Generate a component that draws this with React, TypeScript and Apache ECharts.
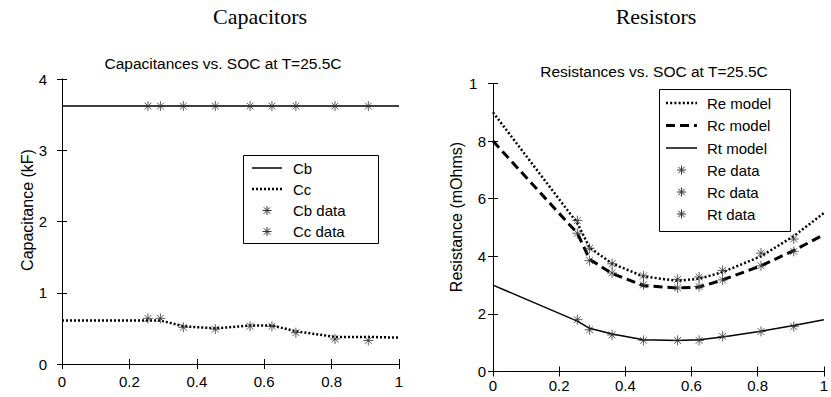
import React, { useEffect, useRef } from "react";
import * as echarts from "echarts";

// ---- data ----
const SOC = [0.255, 0.292, 0.36, 0.455, 0.558, 0.623, 0.694, 0.81, 0.909];
const MODEL_SOC = [0, 0.255, 0.292, 0.36, 0.455, 0.558, 0.623, 0.694, 0.81, 0.909, 1];
const CB_SOC = [0, 1];

const cbModel = [3.62, 3.62];
const ccModel = [0.61, 0.61, 0.61, 0.53, 0.5, 0.54, 0.54, 0.46, 0.38, 0.38, 0.37];
const cbData = [3.62, 3.62, 3.62, 3.62, 3.62, 3.62, 3.62, 3.62, 3.62];
const ccData = [0.64, 0.64, 0.515, 0.49, 0.53, 0.53, 0.44, 0.35, 0.33];

const reModel = [9, 5.15, 4.3, 3.75, 3.3, 3.15, 3.22, 3.45, 4.0, 4.7, 5.5];
const rcModel = [8, 4.8, 3.9, 3.4, 2.98, 2.9, 2.93, 3.18, 3.67, 4.2, 4.75];
const rtModel = [3, 1.75, 1.5, 1.3, 1.1, 1.08, 1.1, 1.2, 1.4, 1.6, 1.8];
const reData = [5.24, 4.28, 3.74, 3.32, 3.2, 3.28, 3.51, 4.11, 4.6];
const rcData = [4.8, 3.85, 3.42, 3.01, 2.9, 2.95, 3.18, 3.67, 4.17];
const rtData = [1.8, 1.45, 1.27, 1.08, 1.08, 1.08, 1.22, 1.39, 1.56];

const X_TICKS = [0, 0.2, 0.4, 0.6, 0.8, 1];
const CAP_NAMES = ["Cb", "Cc", "Cb data", "Cc data"];
const RES_NAMES = ["Re model", "Rc model", "Rt model", "Re data", "Rc data", "Rt data"];

const SANS = "Liberation Sans, Arial, Helvetica, sans-serif";
const SERIF = "Liberation Serif, Times New Roman, serif";
const STAR = "path://M5,0L5,10M0,5L10,5M1.6,1.6L8.4,8.4M1.6,8.4L8.4,1.6";
const MARK = "#333";

const zip = (xs: number[], ys: number[]) => xs.map((x, i) => [x, ys[i]]);

function star(cx: number, cy: number) {
  const r = 4.5;
  const d = 3.2;
  const s = { stroke: MARK, lineWidth: 1 };
  return {
    type: "group",
    children: [
      { type: "line", shape: { x1: cx, y1: cy - r, x2: cx, y2: cy + r }, style: s },
      { type: "line", shape: { x1: cx - r, y1: cy, x2: cx + r, y2: cy }, style: s },
      { type: "line", shape: { x1: cx - d, y1: cy - d, x2: cx + d, y2: cy + d }, style: s },
      { type: "line", shape: { x1: cx - d, y1: cy + d, x2: cx + d, y2: cy - d }, style: s },
    ],
  };
}

function legendBox(
  x: number, y: number, w: number, h: number,
  names: string[], rowY: number[], iconX1: number, iconX2: number, textX: number,
  kinds: { dash: number[] | null; width: number; star: boolean }[]
) {
  const children: any[] = [
    { type: "rect", shape: { x, y, width: w, height: h }, style: { fill: "#fff", stroke: "#000", lineWidth: 1 } },
  ];
  names.forEach((n, i) => {
    const k = kinds[i];
    if (k.star) {
      children.push(star((iconX1 + iconX2) / 2, rowY[i]));
    } else {
      children.push({
        type: "line",
        shape: { x1: iconX1, y1: rowY[i], x2: iconX2, y2: rowY[i] },
        style: { stroke: "#000", lineWidth: k.width, lineDash: k.dash || undefined },
      });
    }
    children.push({
      type: "text",
      x: textX,
      y: rowY[i],
      style: { text: n, font: `15px ${SANS}`, fill: "#000", textAlign: "left", textVerticalAlign: "middle" },
    });
  });
  return { type: "group", children };
}

export default function App() {
  const ref = useRef<HTMLDivElement>(null);
  useEffect(() => {
    document.body.style.margin = "0";
    if (!ref.current) return;
    const chart = echarts.init(ref.current, null, { renderer: "svg" });

    const grids = [
      { left: 62, top: 79, width: 337, height: 285 },
      { left: 493, top: 83.5, width: 336, height: 288 },
    ];
    const axisLine = { show: true, lineStyle: { color: "#000", width: 1 } };
    const tick = { show: true, inside: true, length: 5, lineStyle: { color: "#000" } };
    const lbl = { fontFamily: SANS, fontSize: 15, color: "#000" };

    const xAxes: any[] = [];
    const yAxes: any[] = [];
    [0, 1].forEach((g) => {
      const xm = g === 0 ? 10 : 6;
      xAxes.push({
        type: "value", gridIndex: g, min: 0, max: 1, interval: 0.2, position: "bottom",
        axisLine, axisTick: tick, splitLine: { show: false },
        axisLabel: { ...lbl, margin: xm, formatter: (v: number) => (X_TICKS.includes(Math.round(v * 10) / 10) ? String(Math.round(v * 10) / 10) : "") },
      });
      xAxes.push({
        type: "value", gridIndex: g, min: 0, max: 1, interval: 0.2, position: "top",
        axisLine, axisTick: tick, splitLine: { show: false }, axisLabel: { show: false },
      });
    });
    yAxes.push({
      type: "value", gridIndex: 0, min: 0, max: 4, interval: 1, position: "left",
      axisLine, axisTick: tick, splitLine: { show: false }, axisLabel: { ...lbl, margin: 15 },
    });
    yAxes.push({
      type: "value", gridIndex: 0, min: 0, max: 4, interval: 1, position: "right",
      axisLine, axisTick: tick, splitLine: { show: false }, axisLabel: { show: false },
    });
    yAxes.push({
      type: "value", gridIndex: 1, min: 0, max: 10, interval: 2, position: "left",
      axisLine, axisTick: tick, splitLine: { show: false },
      axisLabel: {
        ...lbl, margin: 7,
        formatter: (v: number) => (v === 10 ? "{t|1}" : String(v)),
        rich: { t: { fontFamily: SANS, fontSize: 15, color: "#000", width: 17, align: "left" } },
      },
    });
    yAxes.push({
      type: "value", gridIndex: 1, min: 0, max: 10, interval: 2, position: "right",
      axisLine, axisTick: tick, splitLine: { show: false }, axisLabel: { show: false },
    });

    const lineS = (name: string, xs: number[], ys: number[], xi: number, yi: number, type: any, width: number) => ({
      name, type: "line", xAxisIndex: xi, yAxisIndex: yi, data: zip(xs, ys),
      showSymbol: false, symbol: "none",
      lineStyle: { color: "#000", width, type },
      z: 2,
    });
    const scatS = (name: string, ys: number[], xi: number, yi: number) => ({
      name, type: "scatter", xAxisIndex: xi, yAxisIndex: yi, data: zip(SOC, ys),
      symbol: STAR, symbolSize: 10,
      itemStyle: { color: "rgba(0,0,0,0)", borderColor: MARK, borderWidth: 1 },
      z: 3,
    });

    const series = [
      lineS(CAP_NAMES[0], CB_SOC, cbModel, 0, 0, "solid", 1.5),
      lineS(CAP_NAMES[1], MODEL_SOC, ccModel, 0, 0, [2, 2], 2.5),
      scatS(CAP_NAMES[2], cbData, 0, 0),
      scatS(CAP_NAMES[3], ccData, 0, 0),
      lineS(RES_NAMES[0], MODEL_SOC, reModel, 2, 2, [2, 2.2], 2.5),
      lineS(RES_NAMES[1], MODEL_SOC, rcModel, 2, 2, [9, 5], 3),
      lineS(RES_NAMES[2], MODEL_SOC, rtModel, 2, 2, "solid", 1.5),
      scatS(RES_NAMES[3], reData, 2, 2),
      scatS(RES_NAMES[4], rcData, 2, 2),
      scatS(RES_NAMES[5], rtData, 2, 2),
    ];

    const graphic: any[] = [
      { type: "text", x: 260, y: 16, style: { text: "Capacitors", font: `22px ${SERIF}`, fill: "#000", textAlign: "center", textVerticalAlign: "middle" } },
      { type: "text", x: 656, y: 16, style: { text: "Resistors", font: `22px ${SERIF}`, fill: "#000", textAlign: "center", textVerticalAlign: "middle" } },
      { type: "text", x: 223, y: 63, style: { text: "Capacitances vs. SOC at T=25.5C", font: `15.5px ${SANS}`, fill: "#000", textAlign: "center", textVerticalAlign: "middle" } },
      { type: "text", x: 654, y: 71, style: { text: "Resistances vs. SOC at T=25.5C", font: `15.5px ${SANS}`, fill: "#000", textAlign: "center", textVerticalAlign: "middle" } },
      { type: "text", x: 27, y: 210, rotation: Math.PI / 2, style: { text: "Capacitance (kF)", font: `16px ${SANS}`, fill: "#000", textAlign: "center", textVerticalAlign: "middle" } },
      { type: "text", x: 456, y: 217, rotation: Math.PI / 2, style: { text: "Resistance (mOhms)", font: `16px ${SANS}`, fill: "#000", textAlign: "center", textVerticalAlign: "middle" } },
      legendBox(243.5, 155.5, 135, 88, CAP_NAMES, [168, 189, 210.5, 231.5], 252, 282, 293, [
        { dash: null, width: 1.5, star: false },
        { dash: [2, 2], width: 2.5, star: false },
        { dash: null, width: 1, star: true },
        { dash: null, width: 1, star: true },
      ]),
      legendBox(659.5, 89.5, 131, 142, RES_NAMES, [103, 125.5, 148, 170, 192, 214], 666, 697, 707, [
        { dash: [2, 2.2], width: 2.5, star: false },
        { dash: [9, 5], width: 3, star: false },
        { dash: null, width: 1.5, star: false },
        { dash: null, width: 1, star: true },
        { dash: null, width: 1, star: true },
        { dash: null, width: 1, star: true },
      ]),
    ];

    chart.setOption({
      animation: false,
      backgroundColor: "#fff",
      grid: grids,
      xAxis: xAxes,
      yAxis: yAxes,
      series,
      graphic,
    });
    return () => chart.dispose();
  }, []);
  return <div ref={ref} style={{ width: 831, height: 397 }} />;
}
